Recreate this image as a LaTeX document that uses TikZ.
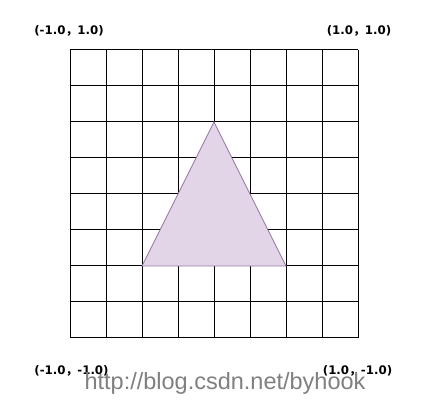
\documentclass[tikz,border=0pt]{standalone}
\usepackage{fontspec}
\setmainfont{Liberation Sans}
\newfontfamily\lblfont{DejaVu Sans}
\newfontfamily\cjkfont{Noto Sans CJK SC}
\definecolor{trifill}{HTML}{E1D5E7}
\definecolor{tristroke}{HTML}{9673A6}
\definecolor{wmgray}{HTML}{808080}
\newcommand{\fwc}{{\cjkfont\bfseries ，}}
\begin{document}
\begin{tikzpicture}[x=1pt,y=-1pt,
  corner/.style={font=\lblfont\bfseries\fontsize{11.8}{12}\selectfont, inner sep=0pt, anchor=center},
  gridline/.style={black, line width=1pt},
  tri/.style={fill=trifill, draw=tristroke, line width=0.8pt, line join=miter},
  watermark/.style={font=\fontsize{23.5}{26}\selectfont, text=wmgray, inner sep=0pt, anchor=base}]
\useasboundingbox[fill=white] (0,0) rectangle (431,411);
\foreach \i in {0,...,8} {
  \draw[gridline] (70+36*\i,50) -- (70+36*\i,338);
  \draw[gridline] (70,50+36*\i) -- (358,50+36*\i);
}
\coordinate (A) at (214,122);
\coordinate (B) at (142,266);
\coordinate (C) at (286,266);
\filldraw[tri] (A) -- (B) -- (C) -- cycle;
\node[corner] (tl) at (69,31) {(-1.0\fwc1.0)};
\node[corner] (tr) at (359,31) {(1.0\fwc1.0)};
\node[corner] (bl) at (71.5,371) {(-1.0\fwc-1.0)};
\node[corner] (br) at (357.5,371) {(1.0\fwc-1.0)};
\node[watermark] (wm) at (225,389) {http://blog.csdn.net/byhook};
\end{tikzpicture}
\end{document}
